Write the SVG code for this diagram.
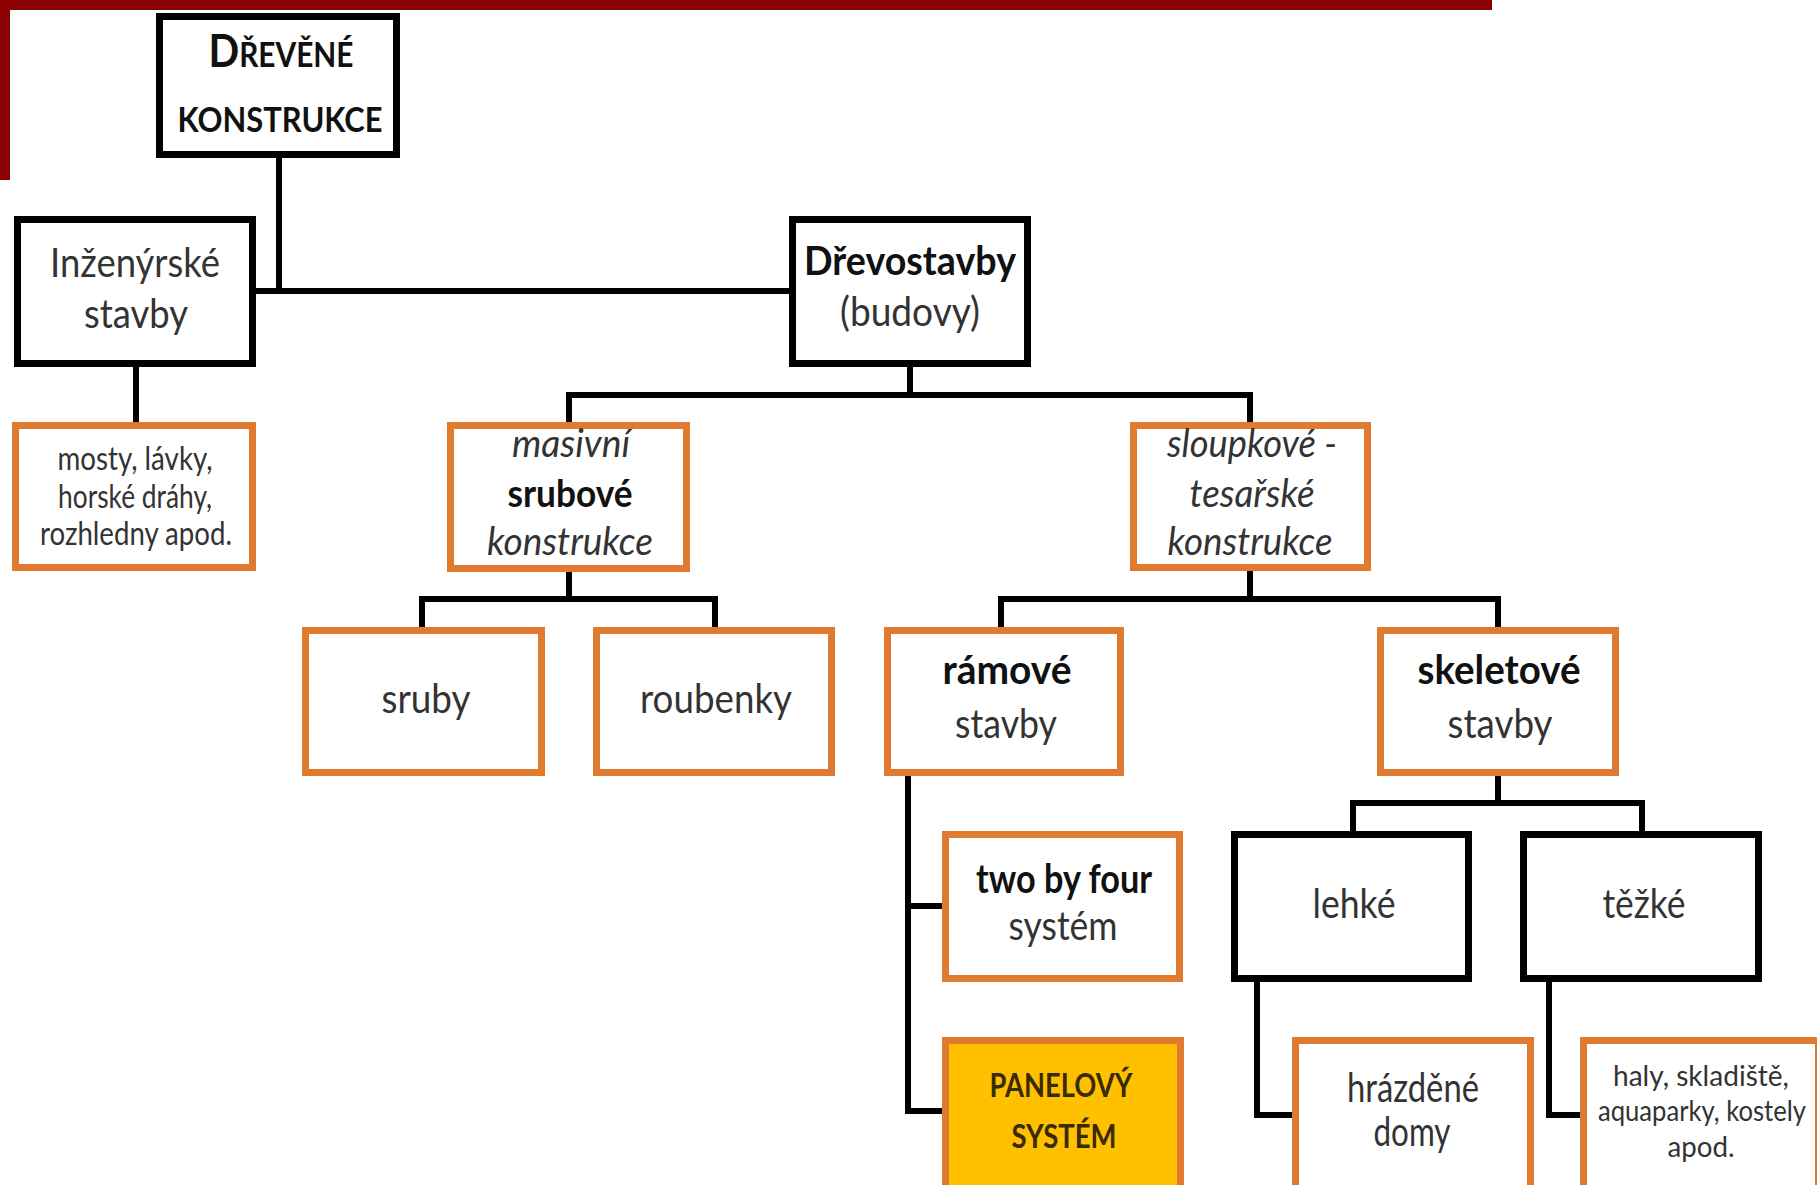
<svg xmlns="http://www.w3.org/2000/svg" width="1817" height="1185" viewBox="0 0 1817 1185">
<style>
.bk{fill:#ffffff;stroke:#000000;stroke-width:7}
.or{fill:#ffffff;stroke:#E07A2E;stroke-width:7}
.pan{fill:#FFC000;stroke:#E07A2E;stroke-width:7}
.ln{fill:none;stroke:#000000;stroke-width:6;stroke-linecap:square}
text{font-family:Lato,"Liberation Sans",sans-serif;text-anchor:middle;fill:#333333}
.m{font-size:40px}
.b{font-size:40px;font-weight:bold;fill:#111111}
.i{font-size:38px;font-style:italic}
.ib{font-size:38px;font-weight:bold;fill:#111111}
.s{font-size:33px}
.t{font-size:29px}
.h{font-size:34px;font-weight:bold;fill:#111111}
.p{font-size:33px;font-weight:bold;fill:#3A2A00}
</style>
<rect x="0" y="0" width="1817" height="1185" fill="#ffffff"/>
<rect x="0" y="0" width="1492" height="10" fill="#8B0000"/>
<rect x="0" y="0" width="10" height="180" fill="#8B0000"/>
<g id="connectors">
<path class="ln" d="M279 158V291M256 291H789"/>
<path class="ln" d="M136 367V422"/>
<path class="ln" d="M910 367V395M569 395H1250M569 395V422M1250 395V422"/>
<path class="ln" d="M569 572V599M422 599H715M422 599V627M715 599V627"/>
<path class="ln" d="M1250 571V599M1001 599H1498M1001 599V627M1498 599V627"/>
<path class="ln" d="M908 776V1111M908 906H942M908 1111H942"/>
<path class="ln" d="M1498 776V803M1353 803H1642M1353 803V831M1642 803V831"/>
<path class="ln" d="M1257 982V1115H1292"/>
<path class="ln" d="M1549 982V1115H1580"/>
</g>
<g id="n-drevene">
<rect class="bk" x="159.5" y="16.5" width="237" height="138"/>
<text class="h" x="281" y="67" textLength="145" lengthAdjust="spacingAndGlyphs"><tspan font-size="46">D</tspan>ŘEVĚNÉ</text>
<text class="h" x="280" y="132" textLength="205" lengthAdjust="spacingAndGlyphs">KONSTRUKCE</text>
</g>
<g id="n-inzenyrske">
<rect class="bk" x="17.5" y="219.5" width="235" height="144"/>
<text class="m" x="135" y="277" textLength="170" lengthAdjust="spacingAndGlyphs">Inženýrské</text>
<text class="m" x="136" y="328" textLength="104" lengthAdjust="spacingAndGlyphs">stavby</text>
</g>
<g id="n-drevostavby">
<rect class="bk" x="792.5" y="219.5" width="235" height="144"/>
<text class="b" x="910" y="275" textLength="212" lengthAdjust="spacingAndGlyphs">Dřevostavby</text>
<text class="m" x="910" y="326" textLength="140" lengthAdjust="spacingAndGlyphs">(budovy)</text>
</g>
<g id="n-mosty">
<rect class="or" x="15.5" y="425.5" width="237" height="142"/>
<text class="s" x="135" y="470" textLength="155" lengthAdjust="spacingAndGlyphs">mosty, lávky,</text>
<text class="s" x="135" y="508" textLength="154" lengthAdjust="spacingAndGlyphs">horské dráhy,</text>
<text class="s" x="136" y="545" textLength="192" lengthAdjust="spacingAndGlyphs">rozhledny apod.</text>
</g>
<g id="n-masivni">
<rect class="or" x="450.5" y="425.5" width="236" height="143"/>
<text class="i" x="571" y="457" textLength="118" lengthAdjust="spacingAndGlyphs">masivní</text>
<text class="ib" x="570" y="507" textLength="125" lengthAdjust="spacingAndGlyphs">srubové</text>
<text class="i" x="570" y="555" textLength="166" lengthAdjust="spacingAndGlyphs">konstrukce</text>
</g>
<g id="n-sloupkove">
<rect class="or" x="1133.5" y="425.5" width="234" height="142"/>
<text class="i" x="1252" y="457" textLength="170" lengthAdjust="spacingAndGlyphs">sloupkové -</text>
<text class="i" x="1252" y="507" textLength="125" lengthAdjust="spacingAndGlyphs">tesařské</text>
<text class="i" x="1250" y="555" textLength="165" lengthAdjust="spacingAndGlyphs">konstrukce</text>
</g>
<g id="n-sruby">
<rect class="or" x="305.5" y="630.5" width="236" height="142"/>
<text class="m" x="426" y="713" textLength="89" lengthAdjust="spacingAndGlyphs">sruby</text>
</g>
<g id="n-roubenky">
<rect class="or" x="596.5" y="630.5" width="235" height="142"/>
<text class="m" x="716" y="713" textLength="152" lengthAdjust="spacingAndGlyphs">roubenky</text>
</g>
<g id="n-ramove">
<rect class="or" x="887.5" y="630.5" width="233" height="142"/>
<text class="b" x="1007" y="684" textLength="129" lengthAdjust="spacingAndGlyphs">rámové</text>
<text class="m" x="1006" y="738" textLength="102" lengthAdjust="spacingAndGlyphs">stavby</text>
</g>
<g id="n-skeletove">
<rect class="or" x="1380.5" y="630.5" width="235" height="142"/>
<text class="b" x="1499" y="684" textLength="163" lengthAdjust="spacingAndGlyphs">skeletové</text>
<text class="m" x="1500" y="738" textLength="105" lengthAdjust="spacingAndGlyphs">stavby</text>
</g>
<g id="n-twobyfour">
<rect class="or" x="945.5" y="834.5" width="234" height="144"/>
<text class="b" x="1064" y="893" textLength="176" lengthAdjust="spacingAndGlyphs">two by four</text>
<text class="m" x="1063" y="940" textLength="109" lengthAdjust="spacingAndGlyphs">systém</text>
</g>
<g id="n-panelovy">
<rect class="pan" x="945.5" y="1040.5" width="235" height="160"/>
<text class="p" x="1061" y="1097" textLength="143" lengthAdjust="spacingAndGlyphs">PANELOVÝ</text>
<text class="p" x="1064" y="1148" textLength="105" lengthAdjust="spacingAndGlyphs">SYSTÉM</text>
</g>
<g id="n-lehke">
<rect class="bk" x="1234.5" y="834.5" width="234" height="144"/>
<text class="m" x="1354" y="918" textLength="83" lengthAdjust="spacingAndGlyphs">lehké</text>
</g>
<g id="n-tezke">
<rect class="bk" x="1523.5" y="834.5" width="235" height="144"/>
<text class="m" x="1644" y="918" textLength="83" lengthAdjust="spacingAndGlyphs">těžké</text>
</g>
<g id="n-hrazdene">
<rect class="or" x="1295.5" y="1040.5" width="235" height="160"/>
<text class="m" x="1413" y="1102" textLength="132" lengthAdjust="spacingAndGlyphs">hrázděné</text>
<text class="m" x="1412" y="1146" textLength="77" lengthAdjust="spacingAndGlyphs">domy</text>
</g>
<g id="n-haly">
<rect class="or" x="1583.5" y="1040.5" width="235" height="160"/>
<text class="t" x="1701" y="1086" textLength="176" lengthAdjust="spacingAndGlyphs">haly, skladiště,</text>
<text class="t" x="1702" y="1121" textLength="208" lengthAdjust="spacingAndGlyphs">aquaparky, kostely</text>
<text class="t" x="1701" y="1157" textLength="67" lengthAdjust="spacingAndGlyphs">apod.</text>
</g>
</svg>
